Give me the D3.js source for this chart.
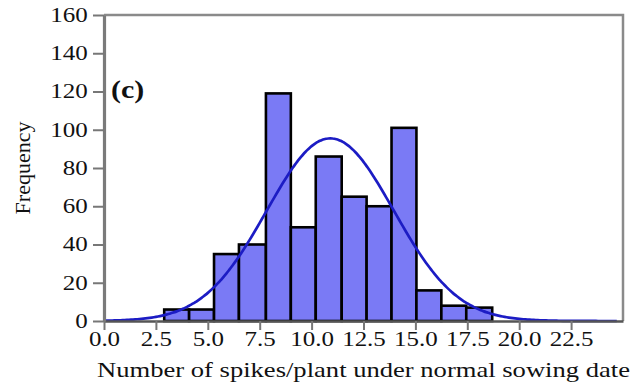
<!DOCTYPE html>
<html>
<head>
<meta charset="utf-8">
<script src="https://cdn.jsdelivr.net/npm/d3@7"></script>
<style>
  body { margin: 0; background: #fff; }
  text { font-family: "Liberation Serif", "Times New Roman", serif; fill: #111; }
</style>
</head>
<body>
<script>
const w = 642,
	h = 387;

// histogram bins (edges) and counts
const binEdges = [2.9, 4.1, 5.3, 6.5, 7.8, 9.0, 10.2, 11.45, 12.65, 13.85, 15.05, 16.25, 17.45, 18.7];
const counts = [6, 6, 35, 40, 119, 49, 86, 65, 60, 101, 16, 8, 7];

// fitted normal curve
const fitMean = 10.9,
	fitSd = 3.05,
	fitPeak = 95.5;

const xTicks = [0, 2.5, 5, 7.5, 10, 12.5, 15, 17.5, 20, 22.5];
const yTicks = [0, 20, 40, 60, 80, 100, 120, 140, 160];

const svg = d3.select('body')
	.append('svg')
	.attr('width', w)
	.attr('height', h);

const x = d3.scaleLinear().domain([0, 25]).range([104, 623]);
const y = d3.scaleLinear().domain([0, 160]).range([321, 15]);

//bars
const bins = counts.map((c, i) => ({x0: binEdges[i], x1: binEdges[i + 1], n: c}));
svg.append('g')
	.selectAll('rect')
	.data(bins)
	.enter()
	.append('rect')
	.attr('x', (d) => x(d.x0))
	.attr('y', (d) => y(d.n))
	.attr('width', (d) => x(d.x1) - x(d.x0))
	.attr('height', (d) => y(0) - y(d.n))
	.attr('fill', '#7a7af5')
	.attr('stroke', '#000')
	.attr('stroke-width', 2.6);

//normal curve
const curveX = d3.range(0, 24.75, 0.1);
const line = d3.line()
	.x((d) => x(d))
	.y((d) => y(fitPeak * Math.exp(-((d - fitMean) ** 2) / (2 * fitSd * fitSd))))
	.curve(d3.curveBasis);
svg.append('path')
	.datum(curveX)
	.attr('d', line)
	.attr('fill', 'none')
	.attr('stroke', '#1c1cc4')
	.attr('stroke-width', 2.7);

//frame top and right
svg.append('path')
	.attr('d', `M${x(0)},${y(160)}H${x(25)}V${y(0)}`)
	.attr('fill', 'none')
	.attr('stroke', '#8a8a8a')
	.attr('stroke-width', 2.5);

//x axis
const gx = svg.append('g')
	.attr('transform', `translate(0,${y(0)})`)
	.call(d3.axisBottom(x).tickValues(xTicks).tickFormat(d3.format('.1f')).tickSize(9).tickSizeOuter(0));
gx.select('.domain').attr('stroke', '#555').attr('stroke-width', 2.5);
gx.selectAll('.tick line').attr('stroke', '#777').attr('stroke-width', 2);
gx.selectAll('.tick text')
	.attr('font-size', 20)
	.attr('font-family', '"Liberation Serif", serif')
	.attr('fill', '#111')
	.attr('y', 11)
	.attr('transform', 'scale(1.25,1)');

//y axis
const gy = svg.append('g')
	.attr('transform', `translate(${x(0)},0)`)
	.call(d3.axisLeft(y).tickValues(yTicks).tickSize(11).tickSizeOuter(0));
gy.select('.domain').attr('stroke', '#7a7a7a').attr('stroke-width', 3.2);
gy.selectAll('.tick line').attr('stroke', '#777').attr('stroke-width', 2);
gy.selectAll('.tick text')
	.attr('font-size', 20)
	.attr('font-family', '"Liberation Serif", serif')
	.attr('fill', '#111')
	.attr('x', -13)
	.attr('transform', 'scale(1.25,1)');

//labels
svg.append('text')
	.attr('x', 97)
	.attr('y', 377)
	.attr('font-size', 22)
	.attr('textLength', 533)
	.attr('lengthAdjust', 'spacingAndGlyphs')
	.text('Number of spikes/plant under normal sowing date');

svg.append('text')
	.attr('transform', 'translate(30,168) rotate(-90)')
	.attr('text-anchor', 'middle')
	.attr('font-size', 22)
	.text('Frequency');

svg.append('text')
	.attr('transform', 'translate(111,98) scale(1.15,1)')
	.attr('font-size', 26)
	.attr('font-weight', 'bold')
	.attr('fill', '#000')
	.text('(c)');
</script>
</body>
</html>
